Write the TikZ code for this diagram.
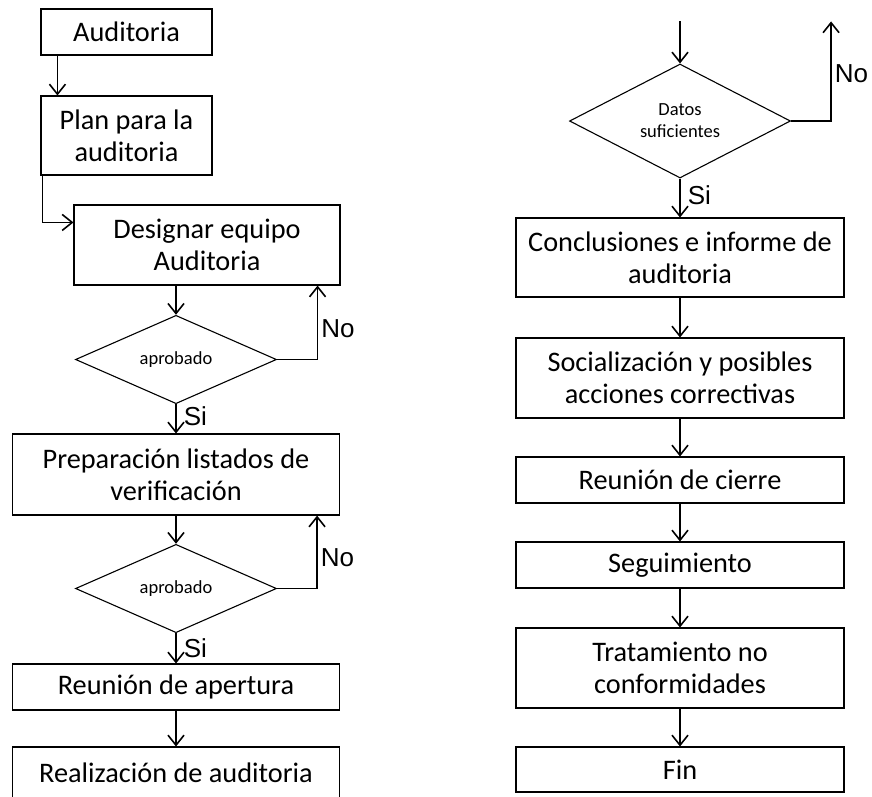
\documentclass[tikz,border=0pt]{standalone}
\usepackage{fontspec}
\setmainfont{Carlito}
\newfontfamily\arialfont{Liberation Sans}
\usetikzlibrary{arrows.meta,shapes.geometric,positioning}

\begin{document}
\begin{tikzpicture}[x=1pt,y=-1pt,on grid,
    arr/.style={line width=1.6pt,-{Straight Barb[length=10pt,width=16pt]}},
    box/.style={draw,rectangle,line width=1.1pt,align=center,inner sep=0pt,
      font=\fontsize{28.3}{32}\selectfont},
    decision/.style={draw,diamond,line width=1.1pt,align=center,inner sep=0pt,
      font=\fontsize{18.5}{22}\selectfont},
    lab/.style={font=\arialfont\fontsize{26}{30}\selectfont,inner sep=3pt}]
   \useasboundingbox (0,0) rectangle (872,796);
   % left column
   \node[box,minimum width=171pt,minimum height=46pt] (l_0) at (126.5,32) {Auditoria};
   \node[box,minimum width=171pt,minimum height=79pt] (l_1) [below=103.5pt of l_0] {Plan para la\\auditoria};
   \node[box,minimum width=266pt,minimum height=80pt] (l_2) [below right=109.5pt and 80.5pt of l_1] {Designar equipo\\Auditoria};
   \node[decision,minimum width=201pt,minimum height=67pt] (d_1) [below left=114.5pt and 31pt of l_2] {aprobado};
   \node[box,minimum width=327pt,minimum height=81pt] (l_3) [below=115pt of d_1] {Preparación listados de\\verificación};
   \node[decision,minimum width=201pt,minimum height=67pt] (d_2) [below=114pt of l_3] {aprobado};
   \node[box,minimum width=327pt,minimum height=46pt] (l_4) [below=98.5pt of d_2] {Reunión de apertura};
   \node[box,minimum width=327pt,minimum height=52pt] (l_5) [below=86pt of l_4] {Realización de auditoria};
   % right column
   \node[decision,minimum width=221pt,minimum height=112pt] (d_3) at (680,121) {Datos\\suficientes};
   \node[box,minimum width=328pt,minimum height=79pt] (r_0) [below=136.5pt of d_3] {Conclusiones e informe de\\auditoria};
   \node[box,minimum width=328pt,minimum height=80pt] (r_1) [below=120.5pt of r_0] {Socialización y posibles\\acciones correctivas};
   \node[box,minimum width=328pt,minimum height=46pt] (r_2) [below=102pt of r_1] {Reunión de cierre};
   \node[box,minimum width=328pt,minimum height=46pt] (r_3) [below=85pt of r_2] {Seguimiento};
   \node[box,minimum width=328pt,minimum height=80pt] (r_4) [below=103pt of r_3] {Tratamiento no\\conformidades};
   \node[box,minimum width=328pt,minimum height=45pt] (r_5) [below=101.5pt of r_4] {Fin};
   \coordinate[above=42pt of d_3.north] (c_in);
   \coordinate[right=40pt of d_3.east] (c_r);

   % left connectors
   \draw[arr] ([xshift=17pt]l_0.south west) -- ([xshift=17pt]l_1.north west);
   \draw[arr] ([xshift=2pt]l_1.south west) |- ([yshift=-18pt]l_2.north west);
   \draw[arr] (l_2.south -| d_1.north) -- (d_1.north);
   \draw[arr] (d_1.east) -| node[lab,right,pos=0.71] {No} ([xshift=-23pt]l_2.south east);
   \draw[arr] (d_1.south) -- node[lab,right,pos=0.4,xshift=4pt] {Si} (l_3.north);
   \draw[arr] (l_3.south) -- (d_2.north);
   \draw[arr] (d_2.east) -| node[lab,right,pos=0.71] {No} ([xshift=-23pt]l_3.south east);
   \draw[arr] (d_2.south) -- node[lab,right,pos=0.48,xshift=4pt] {Si} (l_4.north);
   \draw[arr] (l_4) -- (l_5);

   % right connectors
   \draw[arr] (c_in) -- (d_3.north);
   \draw[arr] (d_3.east) -| node[lab,right,pos=0.74] {No} (c_r |- c_in);
   \draw[arr] (d_3.south) -- node[lab,right,pos=0.44,xshift=4pt] {Si} (r_0.north);
   \path[arr]
    (r_0) edge (r_1)
    (r_1) edge (r_2)
    (r_2) edge (r_3)
    (r_3) edge (r_4)
    (r_4) edge (r_5);
\end{tikzpicture}
\end{document}
